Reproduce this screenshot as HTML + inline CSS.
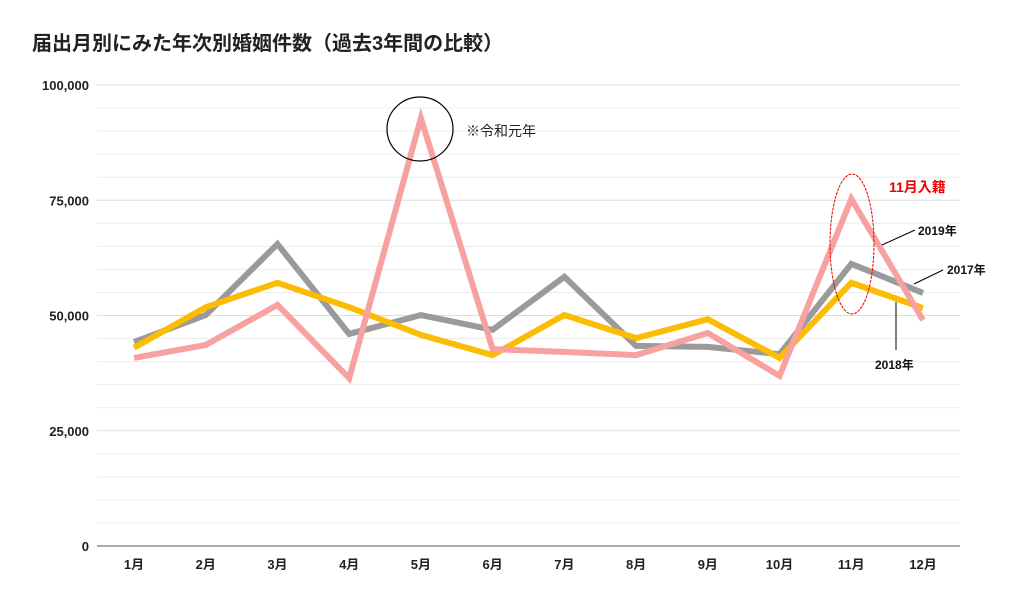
<!DOCTYPE html>
<html><head><meta charset="utf-8">
<style>
html,body{margin:0;padding:0;background:#fff;}
body{width:1024px;height:605px;overflow:hidden;font-family:"Liberation Sans","Noto Sans CJK JP",sans-serif;}
svg text{font-family:"Liberation Sans","Noto Sans CJK JP",sans-serif;}
</style></head>
<body>
<svg id="chart" width="1024" height="605" viewBox="0 0 1024 605" xmlns="http://www.w3.org/2000/svg">
<text x="32" y="50" font-size="20" font-weight="bold" fill="#222">届出月別にみた年次別婚姻件数（過去3年間の比較）</text>
<g id="grid"></g>
<g id="axes"></g>
<g id="series"></g>
<g id="annot">
<ellipse cx="420" cy="129" rx="33" ry="32" fill="none" stroke="#000" stroke-width="1.2"/>
<text x="466" y="136" font-size="14" fill="#222">※令和元年</text>
<ellipse cx="852" cy="244" rx="22" ry="70" fill="none" stroke="#e00" stroke-width="1" stroke-dasharray="3,1"/>
<text x="889" y="192" font-size="14" font-weight="bold" fill="#e00">11月入籍</text>
<line x1="882" y1="245" x2="915" y2="230" stroke="#000" stroke-width="1"/>
<text x="918" y="235" font-size="12" font-weight="bold" fill="#111">2019年</text>
<line x1="914" y1="284" x2="943" y2="270" stroke="#000" stroke-width="1"/>
<text x="947" y="274" font-size="12" font-weight="bold" fill="#111">2017年</text>
<line x1="896" y1="302" x2="896" y2="350" stroke="#000" stroke-width="1"/>
<text x="875" y="369" font-size="12" font-weight="bold" fill="#111">2018年</text>
</g>
</svg>
<script>
const months = ["1月","2月","3月","4月","5月","6月","7月","8月","9月","10月","11月","12月"];
const yTicks = [0,25000,50000,75000,100000];
const yTickLabels = ["0","25,000","50,000","75,000","100,000"];
const s2017 = [44250,50100,65500,46000,50100,46900,58400,43400,43200,41600,61200,54900];
const s2018 = [43000,51800,57100,51800,45800,41400,50100,45100,49200,40800,57100,51600];
const s2019 = [40800,43600,52300,36400,92800,42700,42100,41400,46200,36900,75300,49000];

const NS="http://www.w3.org/2000/svg";
const plotL=97,plotR=960,plotT=85,plotB=546,ymax=100000;
function xPos(i){return 134+i*(923-134)/(months.length-1);}
function yPos(v){return plotB-(v/ymax)*(plotB-plotT);}
function mk(tag,attrs,parent){const e=document.createElementNS(NS,tag);for(const k in attrs)e.setAttribute(k,attrs[k]);parent.appendChild(e);return e;}
const grid=document.getElementById('grid'),axes=document.getElementById('axes'),ser=document.getElementById('series');
for(let v=5000;v<=ymax;v+=5000){
  const major=v%25000===0;
  const l=mk('line',{x1:plotL,x2:plotR,y1:yPos(v),y2:yPos(v),stroke:major?'#ddd':'#ececec','stroke-width':1},grid);
  
  
}
const base=mk('line',{x1:plotL,x2:plotR,y1:plotB,y2:plotB,stroke:'#555','stroke-width':1},axes);


yTicks.forEach((v,i)=>{
  const t=mk('text',{x:89,y:yPos(v)+5,'text-anchor':'end','font-size':13,'font-weight':'bold',fill:'#222'},axes);
  t.textContent=yTickLabels[i];
  
  
});
months.forEach((m,i)=>{
  const t=mk('text',{x:xPos(i),y:569,'text-anchor':'middle','font-size':13,'font-weight':'bold',fill:'#222'},axes);
  t.textContent=m;
  
  
});
function drawLine(data,color,name){
  const p=mk('polyline',{points:data.map((v,i)=>xPos(i)+','+yPos(v)).join(' '),fill:'none',stroke:color,'stroke-width':6,'stroke-linejoin':'miter','stroke-miterlimit':10},ser);
  
  
}
drawLine(s2017,'#9a9a9a','line-2017');
drawLine(s2018,'#fbbc04','line-2018');
drawLine(s2019,'#f7a1a1','line-2019');
</script>
</body></html>
